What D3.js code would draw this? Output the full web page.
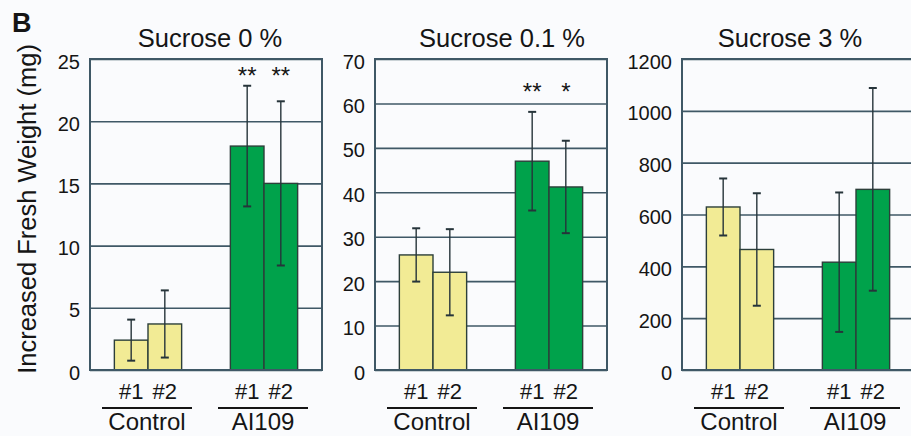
<!DOCTYPE html>
<html>
<head>
<meta charset="utf-8">
<script src="https://cdn.jsdelivr.net/npm/d3@7"></script>
<style>
  html, body { margin: 0; padding: 0; background: #fafbfd; }
  svg { display: block; font-family: "Liberation Sans", Arial, sans-serif; }
</style>
</head>
<body>
<svg id="chart" width="911" height="436"></svg>
<script>
// data
const titles = ["Sucrose 0 %", "Sucrose 0.1 %", "Sucrose 3 %"];
const groups = ["Control", "AI109"];
const lines = ["#1", "#2"];
const yTicks = [
  [0, 5, 10, 15, 20, 25],
  [0, 10, 20, 30, 40, 50, 60, 70],
  [0, 200, 400, 600, 800, 1000, 1200]
];
// means per panel: Control #1, Control #2, AI109 #1, AI109 #2
const means = [
  [2.4, 3.7, 18.0, 15.0],
  [25.9, 22.0, 47.0, 41.2],
  [629, 465, 416, 697]
];
const errs = [
  [1.65, 2.7, 4.85, 6.6],
  [6.0, 9.7, 11.1, 10.4],
  [110, 217, 269, 391]
];
const stars = [
  ["", "", "**", "**"],
  ["", "", "**", "*"],
  ["", "", "", ""]
];
const starLevel = [24.0, 63.7, null];

const colors = { Control: "#f2eb95", AI109: "#00a24b" };
const ink = "#151515";
const grid = "#3f5866";

const svg = d3.select("#chart");
const panelLeft = [90, 375, 682];
const panelW = 232;
const plotTop = 59, plotBottom = 370;
const titleShift = [4, 11, -8];

svg.append("text")
  .attr("x", 12).attr("y", 32)
  .style("font-size", "27px").style("font-weight", "bold")
  .attr("fill", ink)
  .text("B");

svg.append("text")
  .attr("transform", "translate(36,209) rotate(-90)")
  .attr("text-anchor", "middle")
  .style("font-size", "25.5px")
  .attr("fill", ink)
  .text("Increased Fresh Weight (mg)");

titles.forEach((title, p) => {
  const g = svg.append("g").attr("transform", `translate(${panelLeft[p]},0)`);
  const ticks = yTicks[p];

  const y = d3.scaleLinear()
    .domain([0, ticks[ticks.length - 1]])
    .range([plotBottom, plotTop]);

  const xg = d3.scaleBand()
    .domain(groups)
    .range([0, panelW])
    .paddingInner(0.42)
    .paddingOuter(0.21);

  const xl = d3.scaleBand()
    .domain(lines)
    .range([0, xg.bandwidth()])
    .padding(0);

  const bars = [];
  groups.forEach((grp, gi) => {
    lines.forEach((ln, li) => {
      const i = gi * 2 + li;
      bars.push({ grp, ln, mean: means[p][i], err: errs[p][i], star: stars[p][i] });
    });
  });

  // gridlines
  g.append("g")
    .call(d3.axisLeft(y).tickValues(ticks).tickSize(-panelW).tickFormat(""))
    .call(a => a.select(".domain").remove())
    .selectAll("line")
    .attr("stroke", grid)
    .attr("stroke-width", 1.6);

  // tick labels
  g.append("g")
    .call(d3.axisLeft(y).tickValues(ticks).tickSize(0).tickPadding(10).tickFormat(d3.format("d")))
    .call(a => a.select(".domain").remove())
    .selectAll("text")
    .attr("dy", "0.45em")
    .attr("fill", ink)
    .style("font-size", "20px")
    .style("font-family", "'Liberation Sans', Arial, sans-serif");

  // bars
  g.selectAll(".bar")
    .data(bars)
    .enter()
    .append("rect")
    .attr("class", "bar")
    .attr("x", d => xg(d.grp) + xl(d.ln))
    .attr("y", d => y(d.mean))
    .attr("width", xl.bandwidth())
    .attr("height", d => y(0) - y(d.mean))
    .attr("fill", d => colors[d.grp])
    .attr("stroke", "#2c3f3a")
    .attr("stroke-width", 1.4);

  // error bars
  const eb = g.selectAll(".err")
    .data(bars)
    .enter()
    .append("g")
    .attr("class", "err")
    .attr("stroke", "#26343a")
    .attr("stroke-width", 1.4);
  const cx = d => xg(d.grp) + xl(d.ln) + xl.bandwidth() / 2;
  eb.append("line")
    .attr("x1", cx).attr("x2", cx)
    .attr("y1", d => y(d.mean + d.err))
    .attr("y2", d => y(d.mean - d.err));
  eb.append("line")
    .attr("x1", d => cx(d) - 4).attr("x2", d => cx(d) + 4)
    .attr("y1", d => y(d.mean + d.err)).attr("y2", d => y(d.mean + d.err))
    .attr("stroke-width", 2);
  eb.append("line")
    .attr("x1", d => cx(d) - 4).attr("x2", d => cx(d) + 4)
    .attr("y1", d => y(d.mean - d.err)).attr("y2", d => y(d.mean - d.err))
    .attr("stroke-width", 2);

  // frame
  g.append("rect")
    .attr("x", 0).attr("y", plotTop)
    .attr("width", panelW).attr("height", plotBottom - plotTop)
    .attr("fill", "none")
    .attr("stroke", grid)
    .attr("stroke-width", 2);

  // significance stars
  if (starLevel[p] !== null) {
    g.selectAll(".star")
      .data(bars.filter(d => d.star))
      .enter()
      .append("text")
      .attr("class", "star")
      .attr("x", cx)
      .attr("y", y(starLevel[p]) + 13)
      .attr("text-anchor", "middle")
      .style("font-size", "24px")
      .attr("fill", ink)
      .text(d => d.star);
  }

  // title
  g.append("text")
    .attr("x", panelW / 2 + titleShift[p])
    .attr("y", 47)
    .attr("text-anchor", "middle")
    .style("font-size", "25.5px")
    .attr("fill", ink)
    .text(title);

  // line labels #1 #2
  g.selectAll(".ln")
    .data(bars)
    .enter()
    .append("text")
    .attr("class", "ln")
    .attr("x", cx)
    .attr("y", 399)
    .attr("text-anchor", "middle")
    .style("font-size", "22px")
    .attr("fill", ink)
    .text(d => d.ln);

  // group underline and label
  groups.forEach(grp => {
    const c = xg(grp) + xg.bandwidth() / 2 - 1;
    g.append("line")
      .attr("x1", c - 45).attr("x2", c + 45)
      .attr("y1", 408).attr("y2", 408)
      .attr("stroke", ink)
      .attr("stroke-width", 2.2);
    g.append("text")
      .attr("x", c)
      .attr("y", 430)
      .attr("text-anchor", "middle")
      .style("font-size", "24px")
      .attr("fill", ink)
      .text(grp);
  });
});
</script>
</body>
</html>
